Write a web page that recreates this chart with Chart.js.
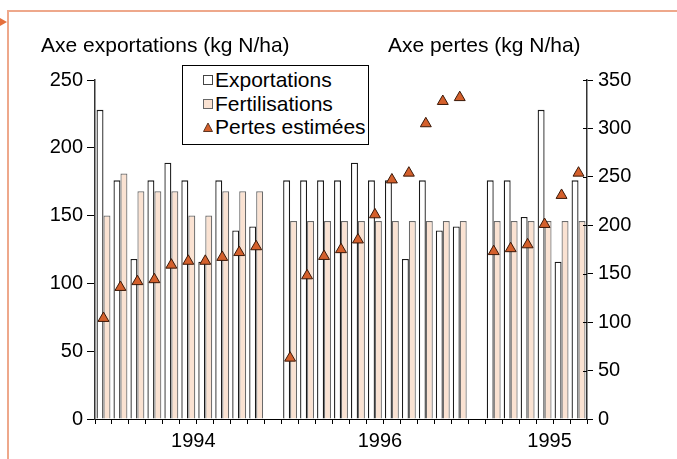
<!DOCTYPE html>
<html><head><meta charset="utf-8">
<script src="https://cdn.jsdelivr.net/npm/chart.js@4"></script>
<style>
body{margin:0;background:#fff;font-family:"Liberation Sans",Arial,sans-serif;}
#wrap{position:relative;width:677px;height:459px;overflow:hidden;background:#fff;}
canvas{position:absolute;left:0;top:0;}
.frameV{position:absolute;left:7px;top:10px;width:2px;height:449px;background:#EEA88B;}
.frameH{position:absolute;left:7px;top:10px;width:670px;height:2px;background:#EEA88B;}
.arrow{position:absolute;left:0;top:18px;width:0;height:0;border-top:4px solid transparent;border-bottom:4px solid transparent;border-left:7px solid #E5703C;}
.title{position:absolute;font-size:21px;color:#000;white-space:nowrap;line-height:22px;z-index:2;}
#legend{position:absolute;left:182px;top:65px;width:185px;height:76px;border:1px solid #000;background:#fff;z-index:2;padding-top:2px;box-sizing:content-box;}
#legend .row{height:23.5px;line-height:23.5px;font-size:21px;position:relative;padding-left:32px;white-space:nowrap;}
#legend .mk{position:absolute;left:20px;top:7px;width:10px;height:10px;}
</style></head>
<body><div id="wrap">
<canvas id="c" width="677" height="459"></canvas>
<div class="frameV"></div><div class="frameH"></div><div class="arrow"></div>
<div class="title" id="tL" style="left:41px;top:34px;"></div>
<div class="title" id="tR" style="left:388px;top:34px;"></div>
<div id="legend"></div>
</div>
<script>
// ---- data ----
const groupYears = ['1994', '1996', '1995'];
const exportations1994 = [228, 176, 118, 176, 189, 176, 116, 176, 139, 142];
const fertilisations1994 = [150, 181, 168, 168, 168, 150, 150, 168, 168, 168];
const pertes1994 = [104, 136, 142, 144, 159, 163, 163, 167, 172, 178];
const exportations1996 = [176, 176, 176, 176, 189, 176, 176, 118, 176, 139, 142];
const fertilisations1996 = [146, 146, 146, 146, 146, 146, 146, 146, 146, 146, 146];
const pertes1996 = [63, 148, 168, 175, 185, 211, 247, 254, 305, 328, 332];
const exportations1995 = [176, 176, 149, 228, 116, 176];
const fertilisations1995 = [146, 146, 146, 146, 146, 146];
const pertes1995 = [173, 176, 180, 201, 231, 254];
const seriesNames = ['Exportations', 'Fertilisations', 'Pertes estimées'];
const leftAxisTitle = 'Axe exportations (kg N/ha)';
const rightAxisTitle = 'Axe pertes (kg N/ha)';
const leftTicks = [0, 50, 100, 150, 200, 250];
const rightTicks = [0, 50, 100, 150, 200, 250, 300, 350];

// ---- build category table (empty slot between groups) ----
const groups = [
  [exportations1994, fertilisations1994, pertes1994],
  [exportations1996, fertilisations1996, pertes1996],
  [exportations1995, fertilisations1995, pertes1995]
];
const categories = [], exportData = [], fertData = [], pertesData = [];
groups.forEach((g, gi) => {
  if (gi > 0) { categories.push(''); exportData.push(null); fertData.push(null); pertesData.push(null); }
  const n = g[0].length;
  for (let i = 0; i < n; i++) {
    categories.push(i === Math.floor(n / 2) ? groupYears[gi] : '');
    exportData.push(g[0][i]); fertData.push(g[1][i]); pertesData.push(g[2][i]);
  }
});

const COLORS = { exp: '#ffffff', expB: '#1a1a1a', fert: '#FAE2D2', fertB: '#6a6a6a', tri: '#D4602C', triB: '#3a1808' };
const FONT = '"Liberation Sans", Arial, sans-serif';

document.getElementById('tL').textContent = leftAxisTitle;
document.getElementById('tR').textContent = rightAxisTitle;
const leg = document.getElementById('legend');
const mk = [
  '<span class="mk" style="background:' + COLORS.exp + ';border:1px solid #444;box-sizing:border-box;"></span>',
  '<span class="mk" style="background:' + COLORS.fert + ';border:1px solid #666;box-sizing:border-box;"></span>',
  '<svg class="mk" width="10" height="10"><polygon points="5,1 9.5,9.5 0.5,9.5" fill="' + COLORS.tri + '" stroke="' + COLORS.triB + '" stroke-width="0.8"/></svg>'
];
seriesNames.forEach((s, i) => {
  const d = document.createElement('div'); d.className = 'row';
  d.innerHTML = mk[i]; d.appendChild(document.createTextNode(s));
  leg.appendChild(d);
});

Chart.defaults.font.family = FONT;
Chart.defaults.color = '#000';

// draws the inner half of the right-axis ticks (ticks cross the axis line)
const crossTicks = {
  id: 'crossTicks',
  afterDraw(chart) {
    const s = chart.scales.y2, c = chart.ctx;
    c.save(); c.strokeStyle = '#000'; c.lineWidth = 1;
    s.ticks.forEach(t => {
      const y = Math.round(s.getPixelForValue(t.value)) + 0.5;
      c.beginPath(); c.moveTo(s.left - 4, y); c.lineTo(s.left, y); c.stroke();
    });
    c.restore();
  }
};

new Chart(document.getElementById('c'), {
  type: 'bar',
  data: {
    labels: categories,
    datasets: [
      { label: seriesNames[0], data: exportData, backgroundColor: COLORS.exp, borderColor: COLORS.expB, borderWidth: 1.3, yAxisID: 'y', order: 2 },
      { label: seriesNames[1], data: fertData, backgroundColor: COLORS.fert, borderColor: COLORS.fertB, borderWidth: 1.2, yAxisID: 'y', order: 2 },
      { type: 'line', label: seriesNames[2], data: pertesData, yAxisID: 'y2', showLine: false, pointStyle: 'triangle',
        pointRadius: 6.3, pointHoverRadius: 6.3, backgroundColor: COLORS.tri, borderColor: COLORS.triB, pointBorderWidth: 1, order: 1 }
    ]
  },
  plugins: [crossTicks],
  options: {
    responsive: false, animation: false,
    layout: { padding: { top: 80, left: 0, right: 0, bottom: 0 } },
    datasets: { bar: { categoryPercentage: 0.82, barPercentage: 1 } },
    plugins: { legend: { display: false }, tooltip: { enabled: false } },
    scales: {
      x: {
        offset: true,
        grid: { offset: true, drawOnChartArea: false, drawTicks: true, tickLength: 5, color: '#000', lineWidth: 1 },
        border: { color: '#000', width: 1 },
        ticks: { autoSkip: false, maxRotation: 0, minRotation: 0, labelOffset: 5, padding: 5, font: { size: 20 } },
        afterFit: s => { s.height = 40; }
      },
      y: {
        position: 'left', min: 0, max: 250,
        afterBuildTicks: s => { s.ticks = leftTicks.map(v => ({ value: v })); },
        grid: { drawOnChartArea: false, tickLength: 8, color: '#000' },
        border: { color: '#333', width: 1.5 },
        ticks: { padding: 4, font: { size: 20 } },
        afterFit: s => { s.width = 95; }
      },
      y2: {
        position: 'right', min: 0, max: 350,
        afterBuildTicks: s => { s.ticks = rightTicks.map(v => ({ value: v })); },
        grid: { drawOnChartArea: false, tickLength: 6, color: '#000' },
        border: { color: '#333', width: 1.5 },
        ticks: { padding: 5, font: { size: 20 } },
        afterFit: s => { s.width = 90; }
      }
    }
  }
});
</script>
</body></html>
